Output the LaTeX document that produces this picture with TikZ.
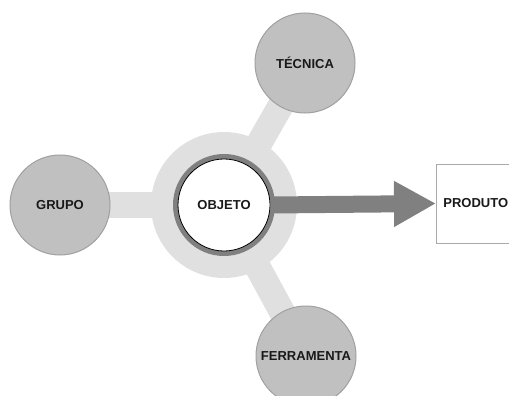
\documentclass[tikz,border=0pt]{standalone}
\usepackage{fontspec}
\setmainfont{Liberation Sans}
\usetikzlibrary{arrows.meta,backgrounds}
\definecolor{ringlight}{RGB}{224,224,224}
\definecolor{ringdark}{RGB}{128,128,128}
\definecolor{satfill}{RGB}{192,192,192}
\definecolor{satdraw}{RGB}{160,160,160}
\definecolor{boxdraw}{RGB}{170,170,170}
\tikzset{
  lbl/.style={font=\fontsize{13}{15}\selectfont\bfseries, text=black!90},
  sat/.style={lbl, circle, fill=satfill, draw=satdraw, line width=1pt, minimum size=100pt, inner sep=0pt},
  core/.style={lbl, circle, fill=white, draw=black, line width=0.8pt, minimum size=92pt, inner sep=0pt},
  outbox/.style={lbl, rectangle, draw=boxdraw, line width=0.8pt, fill=white, minimum height=79pt,
    text width=80pt, inner xsep=7pt, align=left, anchor=west},
  spoke/.style={ringlight, line width=26pt},
  bigarrow/.style={ringdark, line width=17pt, -{Triangle[length=42pt 0 0, width=43pt 0 0]}}
}
\begin{document}
\begin{tikzpicture}[x=1pt,y=-1pt]
\useasboundingbox (0,0) rectangle (509,396);
\clip (0,0) rectangle (509,396);
\node[core] (objeto) at (224,205) {OBJETO};
\node[sat] (tecnica) at (305,63) {TÉCNICA};
\node[sat] (grupo) at (60,205) {GRUPO};
\node[sat] (ferramenta) at (306,356) {FERRAMENTA};
\node[outbox] (produto) at (436,203.5) {PRODUTO};
\begin{scope}[on background layer]
  \fill[ringlight] (objeto.center) circle (73);
  \draw[spoke] (objeto.center) -- (tecnica.center);
  \draw[spoke] (objeto.center) -- (grupo.center);
  \draw[spoke] (objeto.center) -- (ferramenta.center);
  \fill[ringdark] (objeto.center) circle (51);
\end{scope}
\draw[bigarrow] (objeto.east) -- (produto.west);
\end{tikzpicture}
\end{document}
